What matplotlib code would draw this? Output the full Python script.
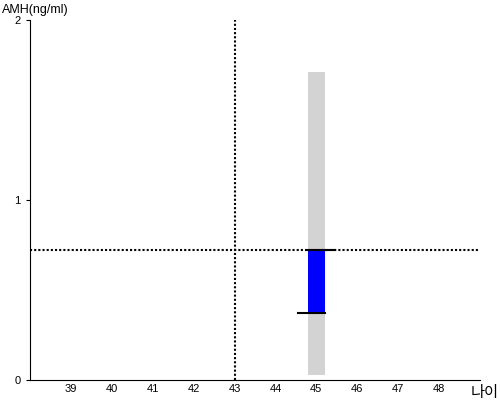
import numpy as np
import matplotlib.pyplot as plt

# reference values
age = 45
ref_age = 43
ref_amh = 0.72
range_lo, range_hi = 0.03, 1.71     # grey band
bar_lo, bar_hi = 0.37, 0.72         # blue bar
xticks = list(range(39, 49))
yticks = [0, 1, 2]

plt.rcParams['font.family'] = ['Liberation Sans', 'Noto Sans CJK KR', 'DejaVu Sans']

fig = plt.figure(figsize=(5, 4), dpi=100)
ax = fig.add_axes([0.06, 0.05, 0.90, 0.90])

w = 0.4
ax.bar(age, range_hi - range_lo, bottom=range_lo, width=w, color='#d3d3d3', zorder=1)
ax.bar(age, bar_hi - bar_lo, bottom=bar_lo, width=w, color='#0000ff', zorder=2)

ax.axhline(ref_amh, color='black', lw=1.5, ls=(0, (1, 1)), zorder=3)
ax.axvline(ref_age, color='black', lw=1.5, ls=(0, (1, 1)), zorder=3)

# whisker-like caps
ax.plot([age - w / 2, age + 0.45], [bar_hi, bar_hi], color='black', lw=1.5, zorder=4)
ax.plot([age - 0.45, age + w / 2], [bar_lo, bar_lo], color='black', lw=1.5, zorder=4)

ax.set_xlim(38, 49)
ax.set_ylim(0, 2)
ax.set_xticks(xticks)
ax.set_yticks(yticks)
ax.tick_params(axis='x', length=0, labelsize=8, pad=3)
ax.tick_params(axis='y', length=3, labelsize=8, pad=4)

for s in ['top', 'right']:
    ax.spines[s].set_visible(False)

fig.text(0.004, 0.975, 'AMH(ng/ml)', fontsize=9, va='center', ha='left')
fig.text(0.998, 0.02, '나이', fontsize=11, va='center', ha='right',
         family=['Noto Sans CJK KR', 'DejaVu Sans'])

fig.savefig('out.png', dpi=100)
